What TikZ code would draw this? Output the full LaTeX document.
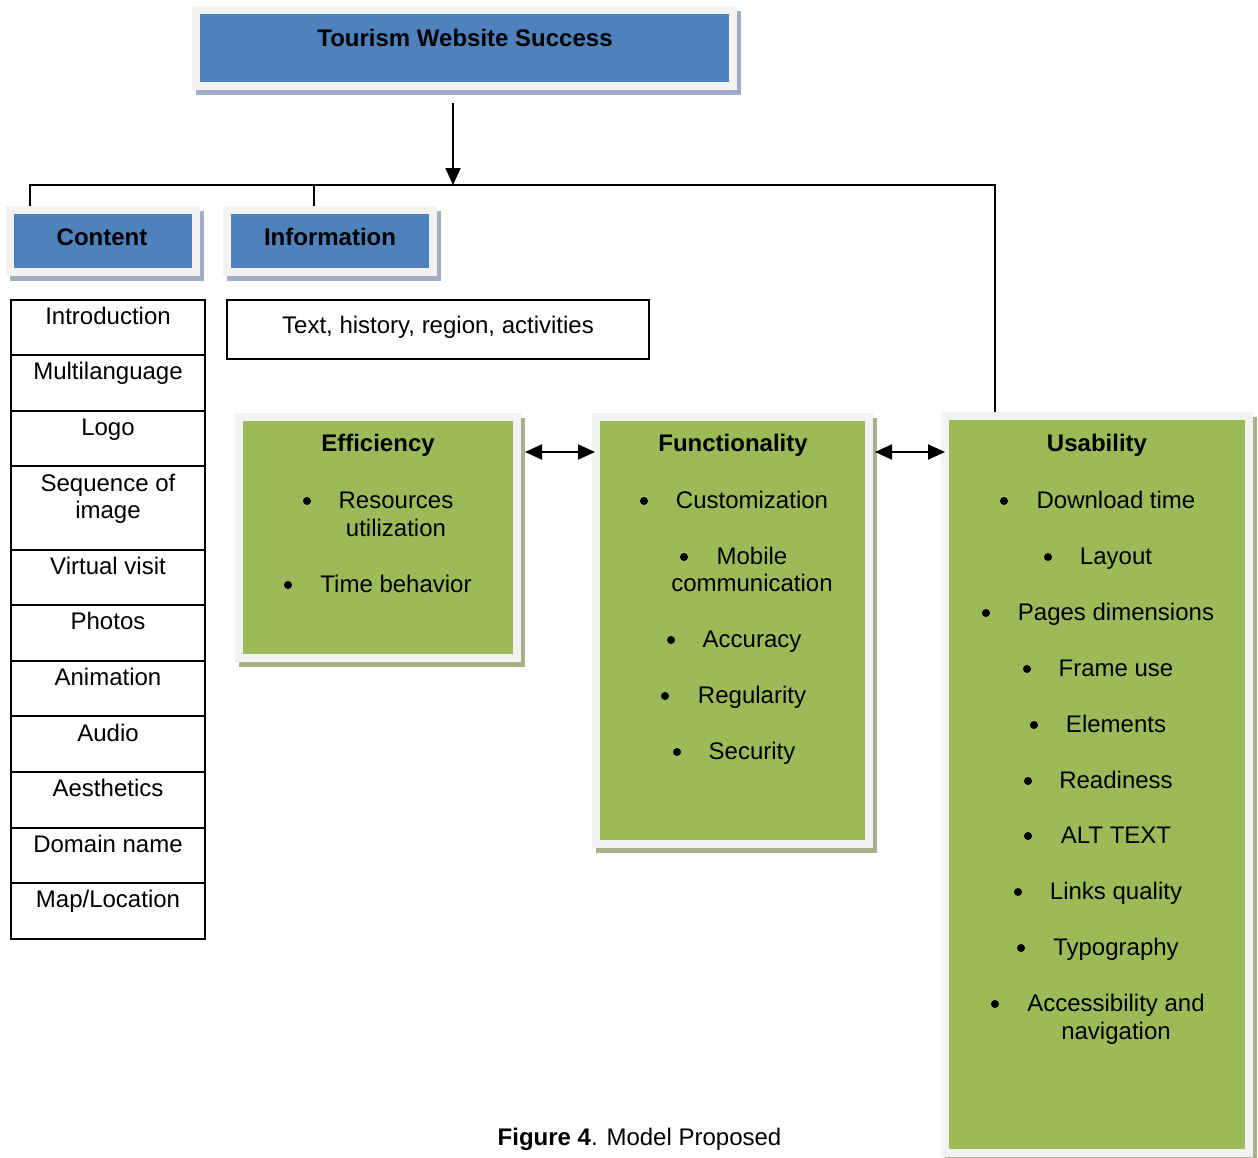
\documentclass[tikz,border=0pt]{standalone}
\usepackage{fontspec}
\setmainfont{Liberation Sans}
\usetikzlibrary{arrows.meta}
\definecolor{boxblue}{HTML}{4F81BD}
\definecolor{boxgreen}{HTML}{9BBB59}
\definecolor{framegray}{HTML}{F2F2F2}
\definecolor{shadeblue}{HTML}{9FAEC4}
\definecolor{shadegreen}{HTML}{A9B08C}
\begin{document}
\begin{tikzpicture}[x=1pt,y=-1pt,
  frame/.style={draw=framegray, line width=8pt, inner sep=0pt, outer sep=0pt},
  bluebox/.style={frame, fill=boxblue,
    preaction={draw=shadeblue, fill=shadeblue, line width=8pt, transform canvas={shift={(4pt,-5pt)}}}},
  greenbox/.style={frame, fill=boxgreen,
    preaction={draw=shadegreen, fill=shadegreen, line width=8pt, transform canvas={shift={(4pt,-5pt)}}}},
  cell/.style={draw=black, line width=2pt, inner sep=0pt, outer sep=0pt, minimum width=194pt},
  txt/.style={font=\fontsize{24}{28}\selectfont, anchor=base, inner sep=0pt, outer sep=0pt},
  ttl/.style={txt, font=\fontsize{24}{28}\selectfont\bfseries},
  bul/.style={circle, fill=black, inner sep=0pt, minimum size=8pt, yshift=7pt},
  conn/.style={line width=2pt, draw=black},
  tip/.style={-{Triangle[length=17pt,width=15pt]}},
  dtip/.style={{Triangle[length=17pt,width=15pt]}-{Triangle[length=17pt,width=15pt]}}
]
\useasboundingbox (0,0) rectangle (1258,1157);

% boxes
\node[bluebox, minimum width=537pt, minimum height=76pt] (top) at (464.5,48) {};
\node[bluebox, minimum width=186pt, minimum height=62pt] (content) at (103,241) {};
\node[bluebox, minimum width=206pt, minimum height=62pt] (info) at (330,241) {};
\node[greenbox, minimum width=278pt, minimum height=241pt] (eff) at (378,537.5) {};
\node[greenbox, minimum width=273pt, minimum height=427pt] (func) at (732.5,630.5) {};
\node[greenbox, minimum width=304pt, minimum height=737pt] (usab) at (1097,784.5) {};

% content table cells
\node[cell, minimum height=55pt] (c1) at (108,327.5) {};
\node[cell, minimum height=56pt] (c2) at (108,383) {};
\node[cell, minimum height=55pt] (c3) at (108,438.5) {};
\node[cell, minimum height=84pt] (c4) at (108,508) {};
\node[cell, minimum height=55pt] (c5) at (108,577.5) {};
\node[cell, minimum height=56pt] (c6) at (108,633) {};
\node[cell, minimum height=55pt] (c7) at (108,688.5) {};
\node[cell, minimum height=56pt] (c8) at (108,744) {};
\node[cell, minimum height=56pt] (c9) at (108,800) {};
\node[cell, minimum height=55pt] (c10) at (108,855.5) {};
\node[cell, minimum height=56pt] (c11) at (108,911) {};
\node[draw=black, line width=2pt, inner sep=0pt, minimum width=422pt, minimum height=59pt] (infotext) at (438,329.5) {};

% connectors
\coordinate (busL) at (30,185);
\coordinate (busI) at (314,185);
\coordinate (busM) at (453,185);
\coordinate (busR) at (995,185);
\coordinate (ya) at (0,452);
\draw[conn, tip, shorten <=17pt] (top.south -| busM) -- (busM);
\draw[conn, shorten <=4pt, shorten >=4pt] (busL |- content.north) -- (busL) -- (busR) -- (busR |- usab.north);
\draw[conn, shorten >=4pt] (busI) -- (busI |- info.north);
\draw[conn, dtip, shorten <=8pt, shorten >=1pt] (eff.east |- ya) -- (func.west |- ya);
\draw[conn, dtip, shorten <=6pt, shorten >=0pt] (func.east |- ya) -- (usab.west |- ya);

% titles
\node[ttl] (ttop) at (465,46) {Tourism Website Success};
\node[ttl] (tcontent) at (102,245) {Content};
\node[ttl] (tinfo) at (330,245) {Information};
\node[ttl] (teff) at (378,451) {Efficiency};
\node[ttl] (tfunc) at (733,451) {Functionality};
\node[ttl] (tusab) at (1097,451) {Usability};

% content list
\node[txt] (l1) at (108,324) {Introduction};
\node[txt] (l2) at (108,379) {Multilanguage};
\node[txt] (l3) at (108,435) {Logo};
\node[txt] (l4a) at (108,491) {Sequence of};
\node[txt] (l4b) at (108,518) {image};
\node[txt] (l5) at (108,574) {Virtual visit};
\node[txt] (l6) at (108,629) {Photos};
\node[txt] (l7) at (108,685) {Animation};
\node[txt] (l8) at (108,741) {Audio};
\node[txt] (l9) at (108,796) {Aesthetics};
\node[txt] (l10) at (108,852) {Domain name};
\node[txt] (l11) at (108,907) {Map/Location};

\node[txt] (itext) at (438,333) {Text, history, region, activities};

% efficiency
\node[bul] (eb1) at (307,508) {};
\node[txt] (e1a) at (396,508) {Resources};
\node[txt] (e1b) at (396,536) {utilization};
\node[bul] (eb2) at (288,592) {};
\node[txt] (e2) at (396,592) {Time behavior};

% functionality
\node[bul] (fb1) at (644,508) {};
\node[txt] (f1) at (752,508) {Customization};
\node[bul] (fb2) at (684,564) {};
\node[txt] (f2a) at (752,564) {Mobile};
\node[txt] (f2b) at (752,591) {communication};
\node[bul] (fb3) at (671,647) {};
\node[txt] (f3) at (752,647) {Accuracy};
\node[bul] (fb4) at (665,703) {};
\node[txt] (f4) at (752,703) {Regularity};
\node[bul] (fb5) at (677,759) {};
\node[txt] (f5) at (752,759) {Security};

% usability
\node[bul] (ub1) at (1004,508) {};
\node[txt] (u1) at (1116,508) {Download time};
\node[bul] (ub2) at (1048,564) {};
\node[txt] (u2) at (1116,564) {Layout};
\node[bul] (ub3) at (986,620) {};
\node[txt] (u3) at (1116,620) {Pages dimensions};
\node[bul] (ub4) at (1027,676) {};
\node[txt] (u4) at (1116,676) {Frame use};
\node[bul] (ub5) at (1034,732) {};
\node[txt] (u5) at (1116,732) {Elements};
\node[bul] (ub6) at (1028,788) {};
\node[txt] (u6) at (1116,788) {Readiness};
\node[bul] (ub7) at (1028,843) {};
\node[txt] (u7) at (1116,843) {ALT TEXT};
\node[bul] (ub8) at (1018,899) {};
\node[txt] (u8) at (1116,899) {Links quality};
\node[bul] (ub9) at (1021,955) {};
\node[txt] (u9) at (1116,955) {Typography};
\node[bul] (ub10) at (995,1011) {};
\node[txt] (u10a) at (1116,1011) {Accessibility and};
\node[txt] (u10b) at (1116,1039) {navigation};

% caption
\node[txt] (cap) at (639.5,1145) {\textbf{Figure 4}. Model Proposed};
\end{tikzpicture}
\end{document}
